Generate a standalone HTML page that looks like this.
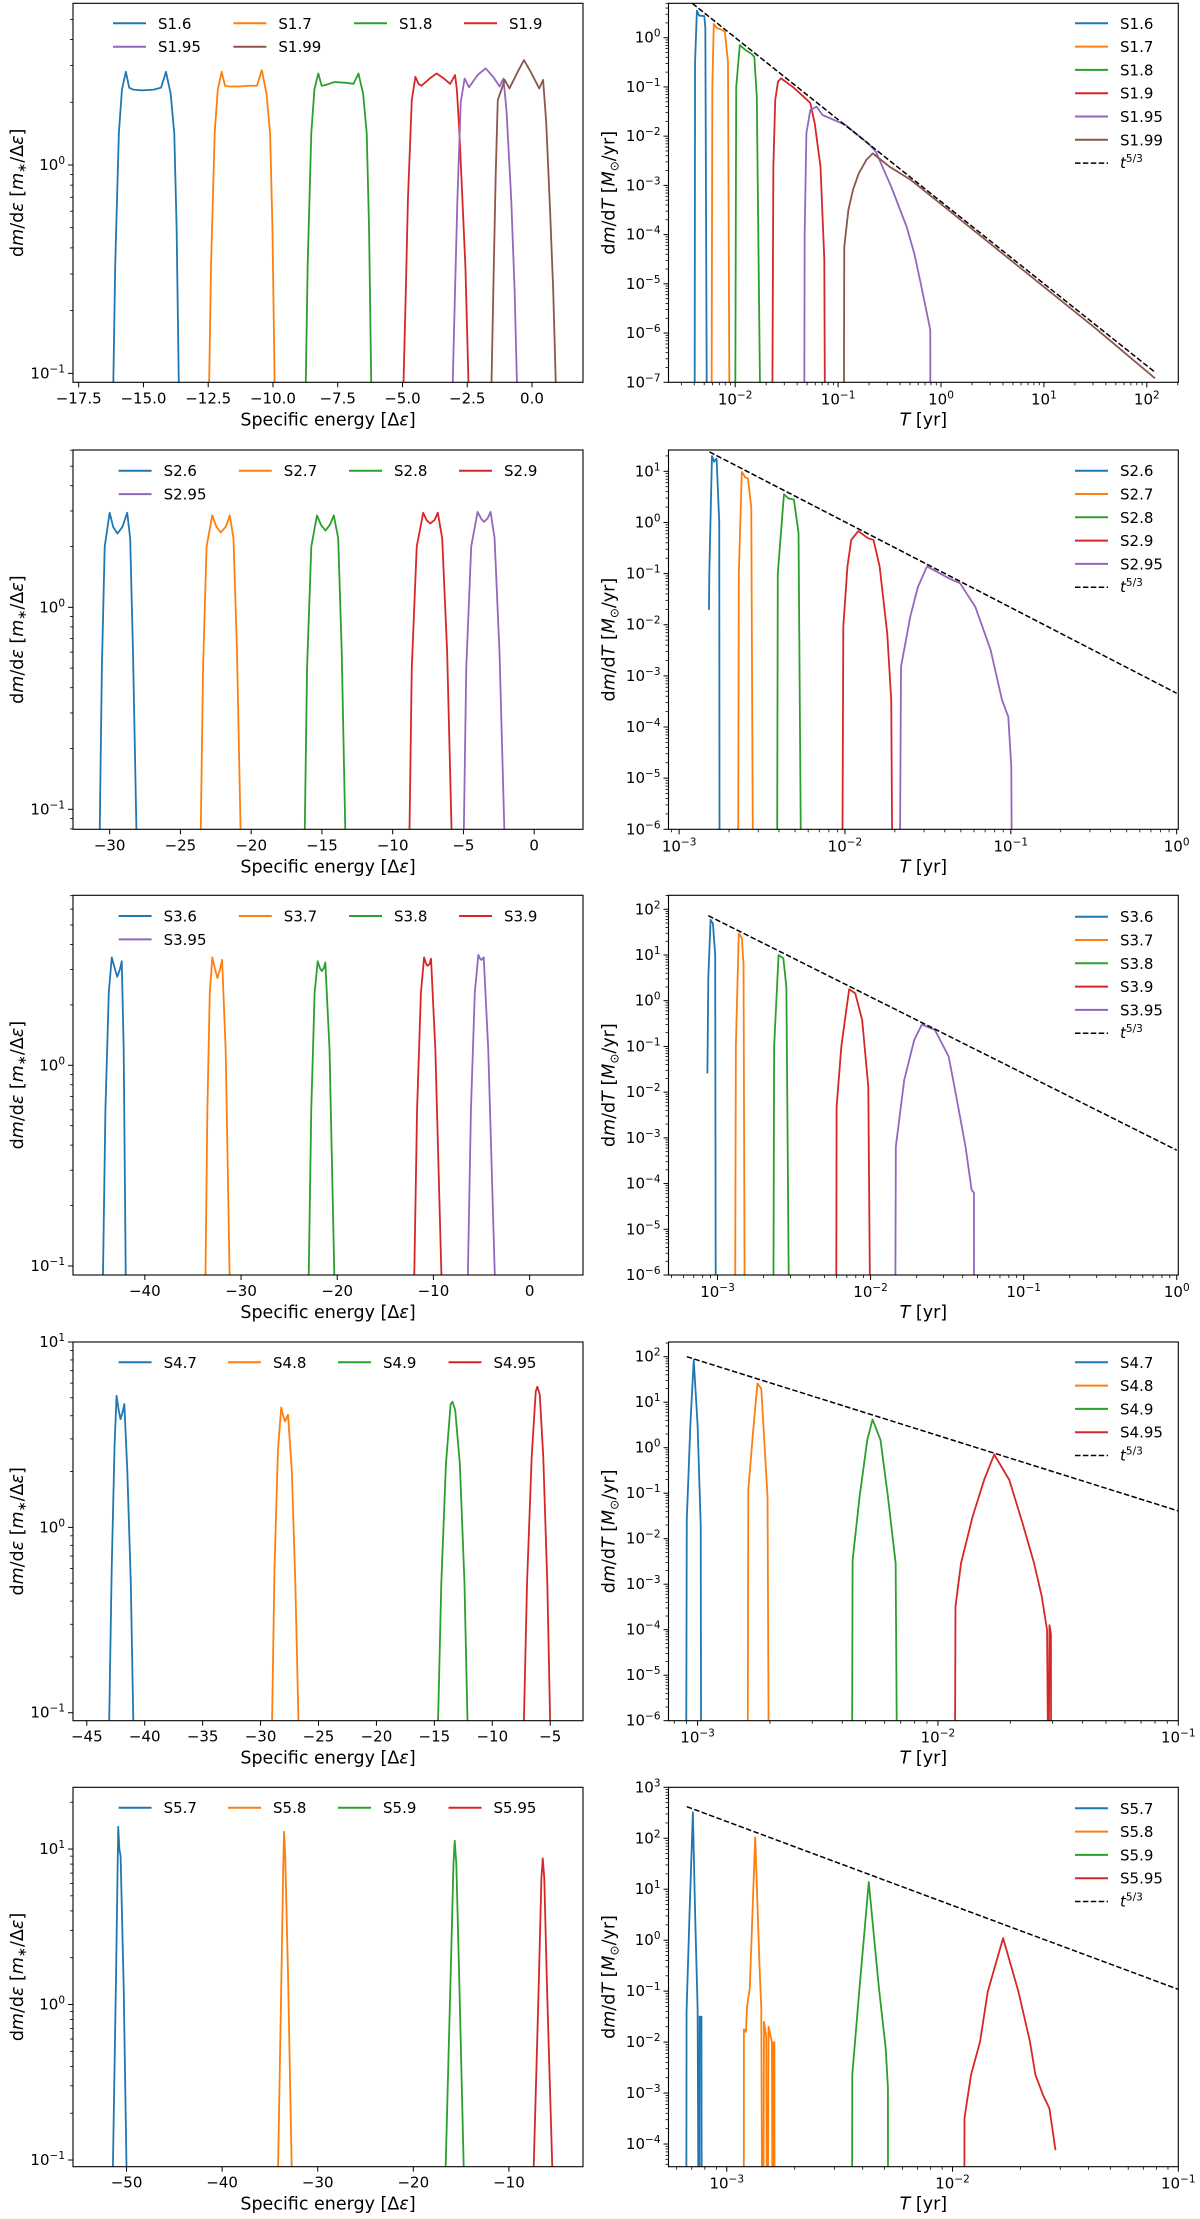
<!DOCTYPE html>
<html><head><meta charset="utf-8"><style>
html,body{margin:0;padding:0;background:#fff;width:1200px;height:2219px;overflow:hidden;}
svg{display:block;font-family:"DejaVu Sans","Liberation Sans",sans-serif;}
</style></head><body>
<svg id="fig" xmlns="http://www.w3.org/2000/svg" width="1200" height="2219" viewBox="0 0 1200 2219" overflow="hidden"></svg>
<script>
// ===== Row 1 left: dm/dE vs specific energy =====
const s16E=[-16.17,-16.09,-15.95,-15.83,-15.68,-15.55,-15.40,-15.06,-14.6,-14.32,-14.13,-13.95,-13.81,-13.72,-13.63];
const s16V=[0.08,0.33,1.42,2.3,2.8,2.35,2.3,2.28,2.3,2.35,2.8,2.2,1.42,0.5,0.08];
const s17E=[-12.47,-12.39,-12.25,-12.13,-11.98,-11.85,-11.7,-11.36,-10.9,-10.62,-10.43,-10.25,-10.11,-10.02,-9.93];
const s17V=[0.08,0.33,1.42,2.3,2.8,2.4,2.38,2.38,2.4,2.4,2.85,2.2,1.42,0.5,0.08];
const s18E=[-8.74,-8.66,-8.52,-8.40,-8.25,-8.12,-7.97,-7.63,-7.17,-6.89,-6.70,-6.52,-6.38,-6.29,-6.20];
const s18V=[0.08,0.33,1.42,2.3,2.75,2.4,2.42,2.5,2.48,2.45,2.75,2.2,1.42,0.5,0.08];
const s19E=[-4.97,-4.87,-4.79,-4.64,-4.50,-4.38,-4.27,-3.95,-3.68,-3.40,-3.16,-2.97,-2.90,-2.80,-2.57,-2.44];
const s19V=[0.08,0.25,0.68,2.05,2.65,2.45,2.4,2.6,2.75,2.6,2.45,2.7,2.3,1.42,0.325,0.08];
const s195E=[-3.07,-2.97,-2.88,-2.75,-2.60,-2.43,-2.10,-1.79,-1.50,-1.25,-1.10,-0.98,-0.80,-0.67,-0.57];
const s195V=[0.08,0.25,0.68,2.0,2.6,2.36,2.7,2.91,2.65,2.38,2.6,1.8,0.68,0.25,0.08];
const s199E=[-1.57,-1.48,-1.40,-1.32,-1.05,-0.87,-0.55,-0.31,-0.05,0.28,0.43,0.55,0.70,0.82,0.93];
const s199V=[0.08,0.3,0.9,2.05,2.56,2.33,2.8,3.19,2.8,2.33,2.56,1.6,0.6,0.25,0.08];
// ===== Row 1 right: log10 T [yr], log10 dm/dT =====
const r16T=[-2.394,-2.39,-2.372,-2.35,-2.30,-2.29,-2.275];
const r16M=[-8,-0.5,0.548,0.45,0.44,0.2,-8];
const r17T=[-2.230,-2.222,-2.208,-2.18,-2.13,-2.10,-2.07,-2.055];
const r17M=[-8,-1,0.278,0.20,0.16,0.122,-0.5,-8];
const r18T=[-2.000,-1.99,-1.955,-1.90,-1.84,-1.814,-1.79,-1.754];
const r18M=[-8,-1,-0.149,-0.25,-0.33,-0.386,-1.2,-8];
const r19T=[-1.640,-1.629,-1.611,-1.584,-1.554,-1.443,-1.371,-1.300,-1.270,-1.227,-1.171,-1.134,-1.127];
const r19M=[-8,-2.62,-1.27,-0.89,-0.826,-0.995,-1.13,-1.266,-1.33,-1.74,-2.62,-4.5,-8];
const r195T=[-1.329,-1.325,-1.308,-1.270,-1.209,-1.152,-0.930,-0.706,-0.632,-0.483,-0.334,-0.260,-0.204,-0.130,-0.104,-0.103];
const r195M=[-8,-4.0,-1.94,-1.47,-1.40,-1.57,-1.77,-2.15,-2.32,-3.03,-3.84,-4.38,-4.92,-5.67,-5.94,-8];
const r199T=[-0.944,-0.940,-0.900,-0.855,-0.800,-0.725,-0.663,-0.5,-0.3,0,0.5,1.0,1.5,2.08];
const r199M=[-8,-4.25,-3.5,-3.09,-2.76,-2.48,-2.35,-2.62,-2.88,-3.38,-4.22,-5.06,-5.9,-6.92];
const fit1T=[-2.416,2.082];
const fit1M=[0.697,-6.80];
// ===== Row 2 =====
const s26E=[-30.70,-30.55,-30.35,-30.00,-29.75,-29.45,-29.1,-28.76,-28.55,-28.35,-28.11];
const s26V=[0.08,0.5,2.0,2.94,2.5,2.32,2.5,2.94,2.2,0.6,0.08];
const s27E=[-23.56,-23.40,-23.15,-22.75,-22.45,-22.15,-21.8,-21.51,-21.25,-21.0,-20.75];
const s27V=[0.08,0.5,2.0,2.85,2.5,2.35,2.5,2.85,2.2,0.6,0.08];
const s28E=[-16.21,-16.05,-15.75,-15.35,-15.05,-14.75,-14.45,-14.16,-13.85,-13.6,-13.35];
const s28V=[0.08,0.5,2.0,2.85,2.55,2.4,2.55,2.85,2.2,0.6,0.08];
const s29E=[-8.81,-8.65,-8.3,-7.84,-7.6,-7.35,-7.05,-6.81,-6.5,-6.15,-5.84];
const s29V=[0.08,0.5,2.0,2.94,2.7,2.6,2.7,2.94,2.2,0.6,0.08];
const s295E=[-4.97,-4.8,-4.45,-4.00,-3.75,-3.55,-3.3,-3.08,-2.8,-2.45,-2.11];
const s295V=[0.08,0.5,2.0,2.97,2.75,2.65,2.75,2.97,2.2,0.6,0.08];
const r26T=[-2.820,-2.818,-2.802,-2.79,-2.774,-2.758,-2.756];
const r26M=[-1.71,-1.0,1.30,1.19,1.25,0,-8];
const r27T=[-2.645,-2.640,-2.622,-2.60,-2.585,-2.565,-2.553];
const r27M=[-8,-1,0.99,0.88,0.86,0.3,-8];
const r28T=[-2.410,-2.405,-2.368,-2.34,-2.308,-2.28,-2.262];
const r28M=[-8,-1,0.55,0.47,0.45,-0.2,-8];
const r29T=[-2.017,-2.010,-1.985,-1.962,-1.920,-1.860,-1.828,-1.791,-1.745,-1.721,-1.712];
const r29M=[-8,-2.04,-0.86,-0.34,-0.17,-0.31,-0.34,-0.86,-2.17,-3.47,-8];
const r295T=[-1.671,-1.662,-1.606,-1.560,-1.505,-1.375,-1.306,-1.214,-1.122,-1.053,-1.015,-0.997,-0.992];
const r295M=[-8,-2.82,-1.84,-1.26,-0.86,-1.09,-1.19,-1.65,-2.49,-3.47,-3.80,-4.78,-8];
const fit2T=[-2.817,0];
const fit2M=[1.38,-3.34];
// ===== Row 3 =====
const s36E=[-44.37,-44.1,-43.75,-43.44,-43.1,-42.87,-42.6,-42.4,-42.2,-41.98];
const s36V=[0.08,0.6,2.3,3.45,3.0,2.76,3.0,3.3,1.2,0.08];
const s37E=[-33.71,-33.5,-33.25,-32.99,-32.7,-32.45,-32.2,-31.97,-31.6,-31.17];
const s37V=[0.08,0.6,2.3,3.45,3.0,2.72,3.0,3.35,1.2,0.08];
const s38E=[-22.98,-22.7,-22.35,-22.03,-21.8,-21.6,-21.4,-21.24,-20.8,-20.28];
const s38V=[0.08,0.6,2.3,3.3,3.05,2.95,3.05,3.25,1.2,0.08];
const s39E=[-12.01,-11.7,-11.3,-10.97,-10.75,-10.6,-10.4,-10.25,-9.8,-9.14];
const s39V=[0.08,0.6,2.3,3.45,3.2,3.13,3.2,3.4,1.2,0.08];
const s395E=[-6.44,-6.1,-5.7,-5.33,-5.15,-5.0,-4.9,-4.77,-4.3,-3.59];
const s395V=[0.08,0.6,2.3,3.55,3.4,3.35,3.4,3.45,1.2,0.08];
const r36T=[-3.066,-3.060,-3.045,-3.03,-3.015,-3.011];
const r36M=[-1.59,0.5,1.77,1.69,1.0,-8];
const r37T=[-2.886,-2.880,-2.861,-2.841,-2.83,-2.821];
const r37M=[-8,-1,1.47,1.37,0.8,-8];
const r38T=[-2.636,-2.630,-2.601,-2.570,-2.55,-2.530];
const r38M=[-8,-1,1.0,0.93,0.3,-8];
const r39T=[-2.225,-2.222,-2.191,-2.140,-2.100,-2.055,-2.015,-2.000];
const r39M=[-8,-2.32,-1.0,0.25,0.16,-0.42,-1.88,-8];
const r395T=[-1.840,-1.835,-1.780,-1.715,-1.665,-1.580,-1.490,-1.440,-1.380,-1.340,-1.325,-1.324];
const r395M=[-8,-3.19,-1.73,-0.86,-0.52,-0.64,-1.22,-2.10,-3.19,-4.14,-4.2,-8];
const fit3T=[-3.06,0];
const fit3M=[1.86,-3.27];
// ===== Row 4 =====
const s47E=[-43.08,-42.85,-42.6,-42.43,-42.25,-42.09,-41.9,-41.76,-41.5,-41.2,-40.97];
const s47V=[0.08,0.6,2.8,5.13,4.3,3.83,4.2,4.63,2.0,0.5,0.08];
const s48E=[-29.02,-28.8,-28.5,-28.22,-28.05,-27.89,-27.75,-27.63,-27.3,-27.0,-26.71];
const s48V=[0.08,0.6,2.6,4.43,4.0,3.73,3.9,4.05,2.0,0.5,0.08];
const s49E=[-14.70,-14.4,-14.0,-13.6,-13.44,-13.2,-12.8,-12.4,-12.12];
const s49V=[0.08,0.5,2.2,4.6,4.76,4.3,2.2,0.5,0.08];
const s495E=[-7.29,-7.0,-6.6,-6.25,-6.11,-5.9,-5.6,-5.25,-4.99];
const s495V=[0.08,0.5,2.4,5.4,5.74,5.2,2.4,0.5,0.08];
const r47T=[-3.048,-3.045,-3.030,-3.016,-3.0,-2.987,-2.985];
const r47M=[-8,-1.59,0.5,1.93,0.5,-1.7,-8];
const r48T=[-2.792,-2.789,-2.770,-2.751,-2.735,-2.709,-2.703];
const r48M=[-8,-0.93,0.3,1.41,1.30,-1.08,-8];
const r49T=[-2.358,-2.355,-2.326,-2.294,-2.272,-2.239,-2.208,-2.176,-2.169];
const r49M=[-8,-2.47,-1.08,0.17,0.62,0.17,-1.08,-2.54,-8];
const r495T=[-1.930,-1.927,-1.904,-1.856,-1.808,-1.766,-1.703,-1.648,-1.600,-1.568,-1.546,-1.540,-1.536,-1.530,-1.529];
const r495M=[-8,-3.49,-2.54,-1.52,-0.71,-0.15,-0.71,-1.66,-2.54,-3.27,-4.01,-8,-3.9,-4.1,-8];
const fit4T=[-3.045,-1];
const fit4M=[2.0,-1.39];
// ===== Row 5 =====
const s57E=[-51.44,-51.1,-50.87,-50.75,-50.62,-50.3,-49.99];
const s57V=[0.08,1.5,13.9,10,9.0,1.3,0.08];
const s58E=[-34.16,-33.8,-33.6,-33.52,-33.4,-33.1,-32.71];
const s58V=[0.08,1.5,8,12.9,9,1.5,0.08];
const s59E=[-16.64,-16.1,-15.8,-15.67,-15.5,-15.2,-14.71];
const s59V=[0.08,1.5,8,11.3,8,1.5,0.08];
const s595E=[-7.43,-6.9,-6.6,-6.46,-6.3,-6.0,-5.44];
const s595V=[0.08,1.2,6.5,8.7,6.5,1.2,0.08];
const r57T=[-3.180,-3.178,-3.165,-3.150,-3.140,-3.129,-3.122,-3.120,-3.112,-3.110];
const r57M=[-9,-1.40,0.5,2.51,0.5,-1.34,-9,-1.5,-1.5,-9];
const r58T=[-2.925,-2.924,-2.915,-2.910,-2.898,-2.874,-2.855,-2.847,-2.840,-2.835,-2.825,-2.820,-2.815,-2.800,-2.795,-2.792,-2.789,-2.788];
const r58M=[-9,-1.75,-1.8,-1.3,-0.94,2.02,-0.5,-1.34,-9,-1.6,-1.9,-9,-1.7,-2.0,-9,-2.0,-2.0,-9];
const r59T=[-2.446,-2.444,-2.412,-2.371,-2.326,-2.296,-2.286,-2.285];
const r59M=[-9,-2.64,-0.94,1.14,-0.94,-2.12,-2.91,-9];
const r595T=[-1.949,-1.947,-1.918,-1.878,-1.844,-1.776,-1.708,-1.657,-1.633,-1.599,-1.571,-1.544];
const r595M=[-9,-3.49,-2.64,-1.99,-1.01,0.04,-1.01,-1.99,-2.64,-3.04,-3.30,-4.12];
const fit5T=[-3.177,-1];
const fit5M=[2.62,-0.965];

const C=['#1f77b4','#ff7f0e','#2ca02c','#d62728','#9467bd','#8c564b'];
const NS='http://www.w3.org/2000/svg';
const svg=document.getElementById('fig');
function mk(tag,attrs,parent){const e=document.createElementNS(NS,tag);for(const k in attrs)e.setAttribute(k,attrs[k]);parent.appendChild(e);return e;}
function sup(parent,x,y,base,exp,anchor,fs){
  const t=mk('text',{x:x,y:y,'font-size':fs,'text-anchor':anchor,fill:'#000'},parent);
  const a=mk('tspan',{},t);a.textContent=base;
  const b=mk('tspan',{dy:-6,'font-size':fs*0.7},t);b.textContent=exp;
  return t;
}
const fmtExp=d=>(d<0?'\u2212'+(-d):''+d);
let clipId=0;

function panel(p){
  const g=mk('g',{},svg);
  
  
  const X=v=>p.l+(v-p.x0)/(p.x1-p.x0)*(p.r-p.l);
  const Y=v=>p.b-(v-p.y0)/(p.y1-p.y0)*(p.b-p.t);
  const cid='c'+(clipId++);
  const cp=mk('clipPath',{id:cid},g);
  mk('rect',{x:p.l,y:p.t,width:p.r-p.l,height:p.b-p.t},cp);
  const yt=mk('g',{},g);
  
  
  for(let d=Math.floor(p.y0);d<=Math.ceil(p.y1);d++){
    for(let k=1;k<=9;k++){
      const v=d+Math.log10(k);
      if(v<p.y0-1e-6||v>p.y1+1e-6)continue;
      const yy=Y(v);
      mk('line',{x1:p.l-(k==1?5:3),x2:p.l,y1:yy,y2:yy,stroke:'#000','stroke-width':k==1?1:0.8},yt);
      if(k==1){const t=sup(yt,p.l-8,yy+5,'10',fmtExp(d),'end',15);
        
        }
    }
  }
  const xt=mk('g',{},g);
  
  
  if(p.xlog){
    for(let d=Math.floor(p.x0);d<=Math.ceil(p.x1);d++){
      for(let k=1;k<=9;k++){
        const v=d+Math.log10(k);
        if(v<p.x0-1e-6||v>p.x1+1e-6)continue;
        const xx=X(v);
        mk('line',{x1:xx,x2:xx,y1:p.b,y2:p.b+(k==1?5:3),stroke:'#000','stroke-width':k==1?1:0.8},xt);
        if(k==1){const t=sup(xt,xx,p.b+22,'10',fmtExp(d),'middle',15);
          
          }
      }
    }
  } else {
    p.xticks.forEach(v=>{
      const xx=X(v);
      mk('line',{x1:xx,x2:xx,y1:p.b,y2:p.b+5,stroke:'#000','stroke-width':1},xt);
      const t=mk('text',{x:xx,y:p.b+21,'font-size':15,'text-anchor':'middle'},xt);
      
      
      const s=v.toFixed(p.dec);
      t.textContent=s.replace('-','\u2212');
    });
  }
  const sg=mk('g',{'clip-path':'url(#'+cid+')'},g);
  p.series.forEach((s,i)=>{
    let d='';
    for(let j=0;j<s.x.length;j++){
      const yv=p.xlog?s.y[j]:Math.log10(s.y[j]);
      d+=(j?'L':'M')+X(s.x[j]).toFixed(2)+' '+Y(yv).toFixed(2);
    }
    const path=mk('path',{d:d,fill:'none',stroke:C[i],'stroke-width':1.8,'stroke-linejoin':'round'},sg);
    
    
  });
  if(p.fit){
    let d='';
    for(let j=0;j<p.fit.x.length;j++)d+=(j?'L':'M')+X(p.fit.x[j]).toFixed(2)+' '+Y(p.fit.y[j]).toFixed(2);
    const fl=mk('path',{d:d,fill:'none',stroke:'#000','stroke-width':1.5,'stroke-dasharray':'5.5,2.4'},sg);
    
    
  }
  const fr=mk('rect',{x:p.l,y:p.t,width:p.r-p.l,height:p.b-p.t,fill:'none',stroke:'#000','stroke-width':1.1},g);
  
  
  const cx=(p.l+p.r)/2, cy=(p.t+p.b)/2;
  const xl=mk('text',{x:cx,y:p.b+43,'font-size':17.5,'text-anchor':'middle'},g);
  
  
  const yl=mk('text',{x:0,y:0,'font-size':17.5,'text-anchor':'middle',transform:'translate('+(p.xlog?p.l-54:p.l-50)+','+cy+') rotate(-90)'},g);
  
  
  if(p.xlog){
    xl.innerHTML='<tspan font-style="italic">T</tspan> [yr]';
    yl.innerHTML='d<tspan font-style="italic">m</tspan>/d<tspan font-style="italic">T</tspan> [<tspan font-style="italic">M</tspan><tspan font-size="12" dy="4">\u2299</tspan><tspan dy="-4">/yr]</tspan>';
  } else {
    xl.innerHTML='Specific energy [\u0394<tspan font-style="italic">\u03b5</tspan>]';
    yl.innerHTML='d<tspan font-style="italic">m</tspan>/d<tspan font-style="italic">\u03b5</tspan> [<tspan font-style="italic">m</tspan><tspan font-size="12" dy="3">\u2217</tspan><tspan dy="-3">/\u0394</tspan><tspan font-style="italic">\u03b5</tspan>]';
  }
  const lg=mk('g',{},g);
  
  
  const items=p.series.map((s,i)=>({label:s.label,color:C[i],dash:false}));
  if(p.fit)items.push({label:'fit',color:'#000',dash:true});
  items.forEach((it,i)=>{
    let lx,ly;
    if(p.legendCols){const c=i%4,r=Math.floor(i/4);lx=p.legendCols[c];ly=p.legendY+r*23.4;}
    else{lx=1075;ly=p.legendY+i*23.3;}
    const e=mk('g',{},lg);
    
    
    mk('line',{x1:lx,x2:lx+33,y1:ly,y2:ly,stroke:it.color,'stroke-width':it.dash?1.5:2,'stroke-dasharray':it.dash?'5.5,2.4':'none'},e);
    if(it.dash){
      const t=mk('text',{x:lx+45,y:ly+5,'font-size':15},e);
      t.innerHTML='<tspan font-style="italic">t</tspan><tspan dy="-6" font-size="10.5">5/3</tspan>';
    } else {
      const t=mk('text',{x:lx+45,y:ly+5.5,'font-size':15},e);
      t.textContent=it.label;
    }
  });
}

const L={l:73,r:583}, R={l:668.5,r:1178.3};
const rows=[
 {t:3.3,b:382.3},{t:450,b:829.3},{t:895.3,b:1275},{t:1342,b:1720.7},{t:1787.3,b:2166.7}
];
panel({name:'panel-1-energy',l:L.l,r:L.r,t:rows[0].t,b:rows[0].b,x0:-17.72,x1:1.97,y0:-1.043,y1:0.776,xlog:false,
  xticks:[-17.5,-15,-12.5,-10,-7.5,-5,-2.5,0],dec:1,legendCols:[113,233.4,354,464],legendY:23.3,
  series:[{label:'S1.6',x:s16E,y:s16V},{label:'S1.7',x:s17E,y:s17V},{label:'S1.8',x:s18E,y:s18V},{label:'S1.9',x:s19E,y:s19V},{label:'S1.95',x:s195E,y:s195V},{label:'S1.99',x:s199E,y:s199V}]});
panel({name:'panel-1-time',l:R.l,r:R.r,t:rows[0].t,b:rows[0].b,x0:-2.648,x1:2.306,y0:-7,y1:0.699,xlog:true,legendY:23.3,
  fit:{x:fit1T,y:fit1M},
  series:[{label:'S1.6',x:r16T,y:r16M},{label:'S1.7',x:r17T,y:r17M},{label:'S1.8',x:r18T,y:r18M},{label:'S1.9',x:r19T,y:r19M},{label:'S1.95',x:r195T,y:r195M},{label:'S1.99',x:r199T,y:r199M}]});
panel({name:'panel-2-energy',l:L.l,r:L.r,t:rows[1].t,b:rows[1].b,x0:-32.59,x1:3.45,y0:-1.099,y1:0.779,xlog:false,
  xticks:[-30,-25,-20,-15,-10,-5,0],dec:0,legendCols:[118.6,238.8,349,459],legendY:470.7,
  series:[{label:'S2.6',x:s26E,y:s26V},{label:'S2.7',x:s27E,y:s27V},{label:'S2.8',x:s28E,y:s28V},{label:'S2.9',x:s29E,y:s29V},{label:'S2.95',x:s295E,y:s295V}]});
panel({name:'panel-2-time',l:R.l,r:R.r,t:rows[1].t,b:rows[1].b,x0:-3.064,x1:0.01,y0:-6,y1:1.417,xlog:true,legendY:470.7,
  fit:{x:fit2T,y:fit2M},
  series:[{label:'S2.6',x:r26T,y:r26M},{label:'S2.7',x:r27T,y:r27M},{label:'S2.8',x:r28T,y:r28M},{label:'S2.9',x:r29T,y:r29M},{label:'S2.95',x:r295T,y:r295M}]});
panel({name:'panel-3-energy',l:L.l,r:L.r,t:rows[2].t,b:rows[2].b,x0:-47.47,x1:5.55,y0:-1.045,y1:0.847,xlog:false,
  xticks:[-40,-30,-20,-10,0],dec:0,legendCols:[118.6,238.8,349,459],legendY:916,
  series:[{label:'S3.6',x:s36E,y:s36V},{label:'S3.7',x:s37E,y:s37V},{label:'S3.8',x:s38E,y:s38V},{label:'S3.9',x:s39E,y:s39V},{label:'S3.95',x:s395E,y:s395V}]});
panel({name:'panel-3-time',l:R.l,r:R.r,t:rows[2].t,b:rows[2].b,x0:-3.32,x1:0.01,y0:-6,y1:2.306,xlog:true,legendY:916.7,
  fit:{x:fit3T,y:fit3M},
  series:[{label:'S3.6',x:r36T,y:r36M},{label:'S3.7',x:r37T,y:r37M},{label:'S3.8',x:r38T,y:r38M},{label:'S3.9',x:r39T,y:r39M},{label:'S3.95',x:r395T,y:r395M}]});
panel({name:'panel-4-energy',l:L.l,r:L.r,t:rows[3].t,b:rows[3].b,x0:-46.19,x1:-2.17,y0:-1.043,y1:1.0,xlog:false,
  xticks:[-45,-40,-35,-30,-25,-20,-15,-10,-5],dec:0,legendCols:[118.6,228,338,448.5],legendY:1362.3,
  series:[{label:'S4.7',x:s47E,y:s47V},{label:'S4.8',x:s48E,y:s48V},{label:'S4.9',x:s49E,y:s49V},{label:'S4.95',x:s495E,y:s495V}]});
panel({name:'panel-4-time',l:R.l,r:R.r,t:rows[3].t,b:rows[3].b,x0:-3.121,x1:-1,y0:-6,y1:2.323,xlog:true,legendY:1362.3,
  fit:{x:fit4T,y:fit4M},
  series:[{label:'S4.7',x:r47T,y:r47M},{label:'S4.8',x:r48T,y:r48M},{label:'S4.9',x:r49T,y:r49M},{label:'S4.95',x:r495T,y:r495M}]});
panel({name:'panel-5-energy',l:L.l,r:L.r,t:rows[4].t,b:rows[4].b,x0:-55.6,x1:-2.25,y0:-1.043,y1:1.397,xlog:false,
  xticks:[-50,-40,-30,-20,-10],dec:0,legendCols:[118.6,228,338,448.5],legendY:1807.7,
  series:[{label:'S5.7',x:s57E,y:s57V},{label:'S5.8',x:s58E,y:s58V},{label:'S5.9',x:s59E,y:s59V},{label:'S5.95',x:s595E,y:s595V}]});
panel({name:'panel-5-time',l:R.l,r:R.r,t:rows[4].t,b:rows[4].b,x0:-3.258,x1:-1,y0:-4.445,y1:3,xlog:true,legendY:1808.3,
  fit:{x:fit5T,y:fit5M},
  series:[{label:'S5.7',x:r57T,y:r57M},{label:'S5.8',x:r58T,y:r58M},{label:'S5.9',x:r59T,y:r59M},{label:'S5.95',x:r595T,y:r595M}]});
</script>
</body></html>
